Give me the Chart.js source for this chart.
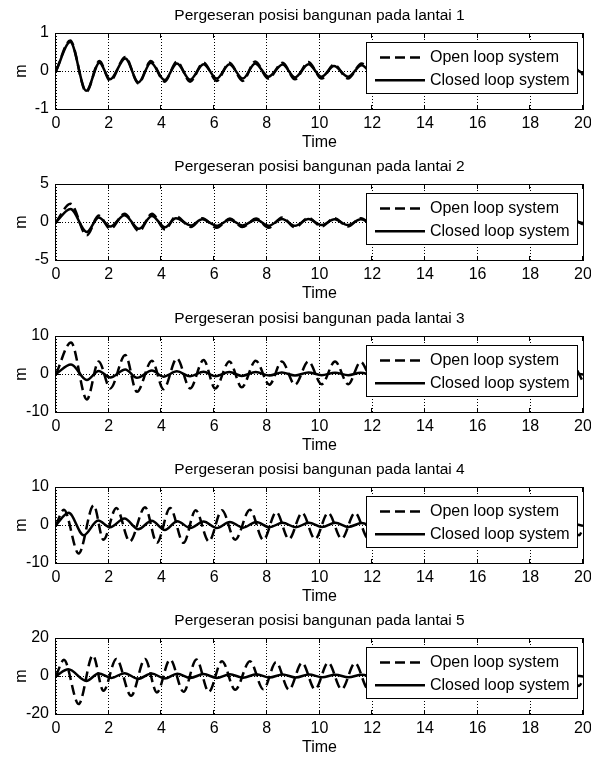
<!DOCTYPE html>
<html>
<head>
<meta charset="utf-8">
<style>
body { margin: 0; background: #fff; }
#wrap { position: relative; width: 591px; height: 757px; }
#wrap canvas { position: absolute; left: 0; }
</style>
</head>
<body>
<div id="wrap"></div>
<script src="https://cdn.jsdelivr.net/npm/chart.js"></script>
<script>
// ---- data (peaks / troughs of each response) ----
var titles = [
	'Pergeseran posisi bangunan pada lantai 1',
	'Pergeseran posisi bangunan pada lantai 2',
	'Pergeseran posisi bangunan pada lantai 3',
	'Pergeseran posisi bangunan pada lantai 4',
	'Pergeseran posisi bangunan pada lantai 5'
];
var seriesNames = ['Open loop system', 'Closed loop system'];
var yLimits = [1, 5, 10, 10, 20];
var xMax = 20, xStep = 2;
var xLabel = 'Time', yLabel = 'm';

// lantai 1
var t1 = [0, 0.54, 1.15, 1.65, 2.05, 2.63, 3.13, 3.6, 4.12, 4.59, 5.09, 5.6, 6.1, 6.58, 7.09, 7.56, 8.06, 8.6, 9.07, 9.58,
	10.08, 10.55, 11.08, 11.6, 12.1, 12.6, 13.1, 13.6, 14.1, 14.6, 15.1, 15.6, 16.1, 16.6, 17.1, 17.6, 18.1, 18.6, 19.1, 19.6, 20];
var open1 = [0, 0.8, -0.55, 0.26, -0.26, 0.37, -0.33, 0.26, -0.28, 0.25, -0.28, 0.22, -0.26, 0.22, -0.26, 0.25, -0.2, 0.22, -0.22, 0.24,
	-0.2, 0.17, -0.2, 0.2, -0.18, 0.17, -0.17, 0.16, -0.16, 0.15, -0.15, 0.14, -0.14, 0.13, -0.13, 0.12, -0.12, 0.12, -0.11, 0.1, -0.1];
var closed1 = [0, 0.76, -0.52, 0.22, -0.22, 0.33, -0.3, 0.22, -0.24, 0.2, -0.23, 0.18, -0.2, 0.18, -0.2, 0.2, -0.15, 0.17, -0.17, 0.18,
	-0.15, 0.13, -0.15, 0.15, -0.13, 0.12, -0.12, 0.11, -0.11, 0.1, -0.1, 0.09, -0.09, 0.08, -0.08, 0.08, -0.07, 0.07, -0.07, 0.06, -0.06];

// lantai 2
var t2 = [0, 0.55, 1.17, 1.62, 2.06, 2.6, 3.15, 3.64, 4.14, 4.55, 5.12, 5.55, 6.1, 6.6, 7.07, 7.6, 8.07, 8.58, 9.07, 9.58,
	10.07, 10.57, 11.07, 11.57, 12.07, 12.57, 13.07, 13.57, 14.07, 14.57, 15.07, 15.57, 16.07, 16.57, 17.07, 17.57, 18.07, 18.57, 19.07, 19.57, 20];
var open2 = [0, 2.4, -1.75, 0.85, -0.9, 1.1, -1.2, 1.1, -1, 0.75, -0.65, 0.5, -0.75, 0.45, -0.65, 0.45, -0.75, 0.6, -0.7, 0.55,
	-0.6, 0.5, -0.6, 0.5, -0.5, 0.45, -0.5, 0.45, -0.45, 0.4, -0.45, 0.4, -0.4, 0.4, -0.4, 0.35, -0.35, 0.35, -0.35, 0.3, -0.3];
var closed2 = [0, 1.7, -1.3, 0.6, -0.6, 0.9, -0.9, 0.8, -0.7, 0.5, -0.45, 0.35, -0.5, 0.3, -0.45, 0.3, -0.5, 0.4, -0.5, 0.4,
	-0.4, 0.35, -0.4, 0.35, -0.35, 0.3, -0.3, 0.3, -0.3, 0.25, -0.25, 0.25, -0.25, 0.2, -0.2, 0.2, -0.2, 0.2, -0.2, 0.15, -0.15];

// lantai 3
var t3 = [0, 0.57, 1.17, 1.62, 2.06, 2.63, 3.07, 3.64, 4.08, 4.59, 5.09, 5.6, 6.04, 6.58, 7.05, 7.58, 8.1, 8.57, 9.07, 9.58,
	10.08, 10.59, 11.09, 11.56, 12.08, 12.58, 13.08, 13.58, 14.08, 14.58, 15.08, 15.58, 16.08, 16.58, 17.08, 17.58, 18.08, 18.58, 19.08, 19.58, 20];
var open3 = [0, 8.3, -6.7, 3.3, -3.8, 5, -4.7, 3.5, -4, 4.1, -3.8, 3.7, -3.8, 3.3, -3.5, 3.5, -2.8, 3.3, -2.8, 3.3,
	-2.7, 3.3, -2.7, 3.2, -2.6, 3.1, -2.6, 3, -2.5, 3, -2.5, 2.9, -2.4, 2.8, -2.4, 2.8, -2.3, 2.7, -2.3, 2.6, -2];
var closed3 = [0, 2.5, -1.6, 0.8, -0.9, 1.2, -1, 0.9, -0.7, 0.7, -0.6, 0.6, -0.6, 0.5, -0.5, 0.5, -0.4, 0.4, -0.4, 0.4,
	-0.3, 0.35, -0.3, 0.3, -0.3, 0.3, -0.25, 0.25, -0.25, 0.25, -0.2, 0.2, -0.2, 0.2, -0.2, 0.2, -0.15, 0.15, -0.15, 0.15, -0.1];

// lantai 4
var t4Open = [0, 0.3, 0.86, 1.43, 1.8, 2.29, 2.8, 3.38, 3.83, 4.33, 4.84, 5.3, 5.8, 6.3, 6.8, 7.36, 7.87, 8.36, 8.84, 9.34,
	9.83, 10.33, 10.84, 11.35, 11.85, 12.35, 12.85, 13.35, 13.85, 14.35, 14.85, 15.35, 15.85, 16.35, 16.85, 17.35, 17.85, 18.35, 18.85, 19.35, 19.85, 20];
var open4 = [0, 4, -7.5, 5.2, -3.9, 4.5, -4.3, 4.7, -4.7, 4.5, -4.7, 3.9, -4.3, 3.9, -3.9, 4, -3.9, 3.4, -3.7, 3.2,
	-3.7, 3.2, -3.6, 3.2, -3.5, 3.1, -3.4, 3, -3.3, 3, -3.2, 2.9, -3.1, 2.8, -3, 2.8, -2.9, 2.7, -2.8, 2.6, -2.7, -1];
var t4Closed = [0, 0.48, 1.05, 1.6, 2.05, 2.6, 3.12, 3.63, 4.13, 4.6, 5.1, 5.6, 6.1, 6.6, 7.1, 7.6, 8.1, 8.6, 9.1, 9.6,
	10.1, 10.6, 11.1, 11.6, 12.1, 12.6, 13.1, 13.6, 14.1, 14.6, 15.1, 15.6, 16.1, 16.6, 17.1, 17.6, 18.1, 18.6, 19.1, 19.6, 20];
var closed4 = [0, 3.2, -2.7, 1.2, -0.6, 1.7, -1.1, 1.1, -1.3, 1, -0.8, 0.9, -0.8, 0.8, -0.7, 0.8, -0.6, 0.6, -0.6, 0.6,
	-0.5, 0.6, -0.5, 0.5, -0.45, 0.45, -0.4, 0.4, -0.4, 0.4, -0.35, 0.35, -0.35, 0.3, -0.3, 0.3, -0.3, 0.25, -0.25, 0.25, -0.2];

// lantai 5
var t5Open = [0, 0.3, 0.86, 1.4, 1.8, 2.29, 2.85, 3.38, 3.83, 4.33, 4.84, 5.33, 5.8, 6.3, 6.8, 7.36, 7.87, 8.35, 8.84, 9.34,
	9.83, 10.33, 10.84, 11.35, 11.85, 12.35, 12.85, 13.35, 13.85, 14.35, 14.85, 15.35, 15.85, 16.35, 16.85, 17.35, 17.85, 18.35, 18.85, 19.35, 19.85, 20];
var open5 = [0, 8.5, -14.8, 10.8, -7.8, 9, -10.4, 9, -8.7, 8.7, -8.3, 8.7, -8.3, 7.8, -7.3, 7.8, -7, 7.2, -7.2, 7,
	-7, 7, -7, 6.8, -6.8, 6.6, -6.6, 6.4, -6.4, 6.2, -6.2, 6, -6, 5.8, -5.8, 5.6, -5.6, 5.4, -5.4, 5.2, -5.2, -2];
var t5Closed = [0, 0.47, 1.15, 1.62, 2.1, 2.6, 3.12, 3.63, 4.13, 4.6, 5.1, 5.6, 6.1, 6.6, 7.1, 7.6, 8.1, 8.6, 9.1, 9.6,
	10.1, 10.6, 11.1, 11.6, 12.1, 12.6, 13.1, 13.6, 14.1, 14.6, 15.1, 15.6, 16.1, 16.6, 17.1, 17.6, 18.1, 18.6, 19.1, 19.6, 20];
var closed5 = [0, 3.5, -2.6, 1.3, -1, 1.5, -1.5, 1.3, -1.3, 1.2, -1, 1, -1, 0.9, -0.9, 0.9, -0.8, 0.8, -0.8, 0.8,
	-0.7, 0.7, -0.7, 0.7, -0.6, 0.6, -0.6, 0.6, -0.5, 0.5, -0.5, 0.5, -0.5, 0.4, -0.4, 0.4, -0.4, 0.4, -0.4, 0.3, -0.3];
</script>

<script>
var textFont = '"Liberation Sans", Arial, sans-serif';
var tickFont = '"Liberation Sans Narrow", "Liberation Sans", Arial, sans-serif';

var floors = [
	{open: [t1, open1], closed: [t1, closed1]},
	{open: [t2, open2], closed: [t2, closed2]},
	{open: [t3, open3], closed: [t3, closed3]},
	{open: [t4Open, open4], closed: [t4Closed, closed4]},
	{open: [t5Open, open5], closed: [t5Closed, closed5]}
];

function pts(t, v){
	return t.map(function(x, i){ return {x: x, y: v[i]}; });
}

// axes box, inside tick marks and the boxed legend, matlab style
var matlabBox = {
	id: 'matlabBox',
	afterDatasetsDraw: function(chart){
		var ctx = chart.ctx, a = chart.chartArea;
		var sx = chart.scales.x, sy = chart.scales.y;
		ctx.save();
		ctx.strokeStyle = '#000';
		ctx.lineWidth = 1;
		ctx.setLineDash([]);
		ctx.strokeRect(a.left - 0.5, a.top + 0.5, a.right - a.left + 1, a.bottom - a.top);
		ctx.beginPath();
		sx.ticks.forEach(function(tk){
			var px = Math.round(sx.getPixelForValue(tk.value)) - 0.5;
			ctx.moveTo(px, a.top); ctx.lineTo(px, a.top + 5);
			ctx.moveTo(px, a.bottom + 1); ctx.lineTo(px, a.bottom - 4);
		});
		sy.ticks.forEach(function(tk){
			var py = Math.round(sy.getPixelForValue(tk.value)) + 0.5;
			ctx.moveTo(a.left, py); ctx.lineTo(a.left + 5, py);
			ctx.moveTo(a.right, py); ctx.lineTo(a.right - 5, py);
		});
		ctx.stroke();

		// legend
		var w = 211, h = 51;
		var lx = a.right - 6 - w, ly = a.top + 9;
		ctx.fillStyle = '#fff';
		ctx.fillRect(lx, ly, w, h);
		ctx.strokeRect(lx + 0.5, ly + 0.5, w, h);
		ctx.font = '16px ' + textFont;
		ctx.textBaseline = 'middle';
		ctx.textAlign = 'left';
		chart.data.datasets.forEach(function(ds, i){
			var y = ly + 15.5 + i * 22.7;
			ctx.lineWidth = ds.borderWidth;
			ctx.setLineDash(ds.borderDash || []);
			ctx.beginPath();
			ctx.moveTo(lx + (ds.borderDash ? 14 : 9), y);
			ctx.lineTo(lx + 59, y);
			ctx.stroke();
			ctx.setLineDash([]);
			ctx.fillStyle = '#000';
			ctx.fillText(ds.label, lx + 64, y);
		});
		ctx.restore();
	}
};

Chart.defaults.color = '#000';
var wrap = document.getElementById('wrap');

floors.forEach(function(f, i){
	var canvas = document.createElement('canvas');
	canvas.width = 591;
	canvas.height = 151;
	canvas.style.top = Math.round(151.25 * i) + 'px';
	wrap.appendChild(canvas);
	var lim = yLimits[i];

	new Chart(canvas, {
		type: 'line',
		data: {
			datasets: [{
				label: seriesNames[0],
				data: pts(f.open[0], f.open[1]),
				borderColor: '#000',
				borderWidth: 2.5,
				borderDash: [10, 5],
				borderJoinStyle: 'round',
				pointRadius: 0,
				cubicInterpolationMode: 'monotone',
				order: 1
			}, {
				label: seriesNames[1],
				data: pts(f.closed[0], f.closed[1]),
				borderColor: '#000',
				borderWidth: 2.5,
				borderJoinStyle: 'round',
				pointRadius: 0,
				cubicInterpolationMode: 'monotone',
				order: 0
			}]
		},
		options: {
			responsive: false,
			animation: false,
			events: [],
			layout: {padding: {left: 0, right: 8, top: 0, bottom: 0}},
			plugins: {
				legend: {display: false},
				tooltip: {enabled: false},
				title: {
					display: true,
					text: titles[i],
					fullSize: false,
					color: '#000',
					font: {family: textFont, size: 15.5, weight: 'normal', lineHeight: 1.2},
					padding: {top: 6.2, bottom: 8.2}
				}
			},
			scales: {
				x: {
					type: 'linear',
					min: 0,
					max: xMax,
					ticks: {stepSize: xStep, padding: 5, maxRotation: 0, autoSkip: false,
						font: {family: tickFont, size: 16, lineHeight: 1.2}},
					grid: {color: '#000', lineWidth: 1, drawTicks: false},
					border: {display: false, dash: [1, 2]},
					title: {display: true, text: xLabel, padding: {top: 0, bottom: 0.5},
						font: {family: textFont, size: 16, lineHeight: 1}},
					afterFit: function(s){ s.height = 42; s.paddingLeft = 0; s.paddingRight = 0; }
				},
				y: {
					min: -lim,
					max: lim,
					ticks: {stepSize: lim, padding: 7, font: {family: tickFont, size: 16, lineHeight: 1.2}},
					grid: {color: '#000', lineWidth: 1, drawTicks: false},
					border: {display: false, dash: [1, 2]},
					title: {display: true, text: yLabel, padding: {top: 14, bottom: 0},
						font: {family: textFont, size: 16, lineHeight: 1}},
					afterFit: function(s){ s.width = 56; s.paddingTop = 0; s.paddingBottom = 0; }
				}
			}
		},
		plugins: [matlabBox]
	});
});
</script>
</body>
</html>
